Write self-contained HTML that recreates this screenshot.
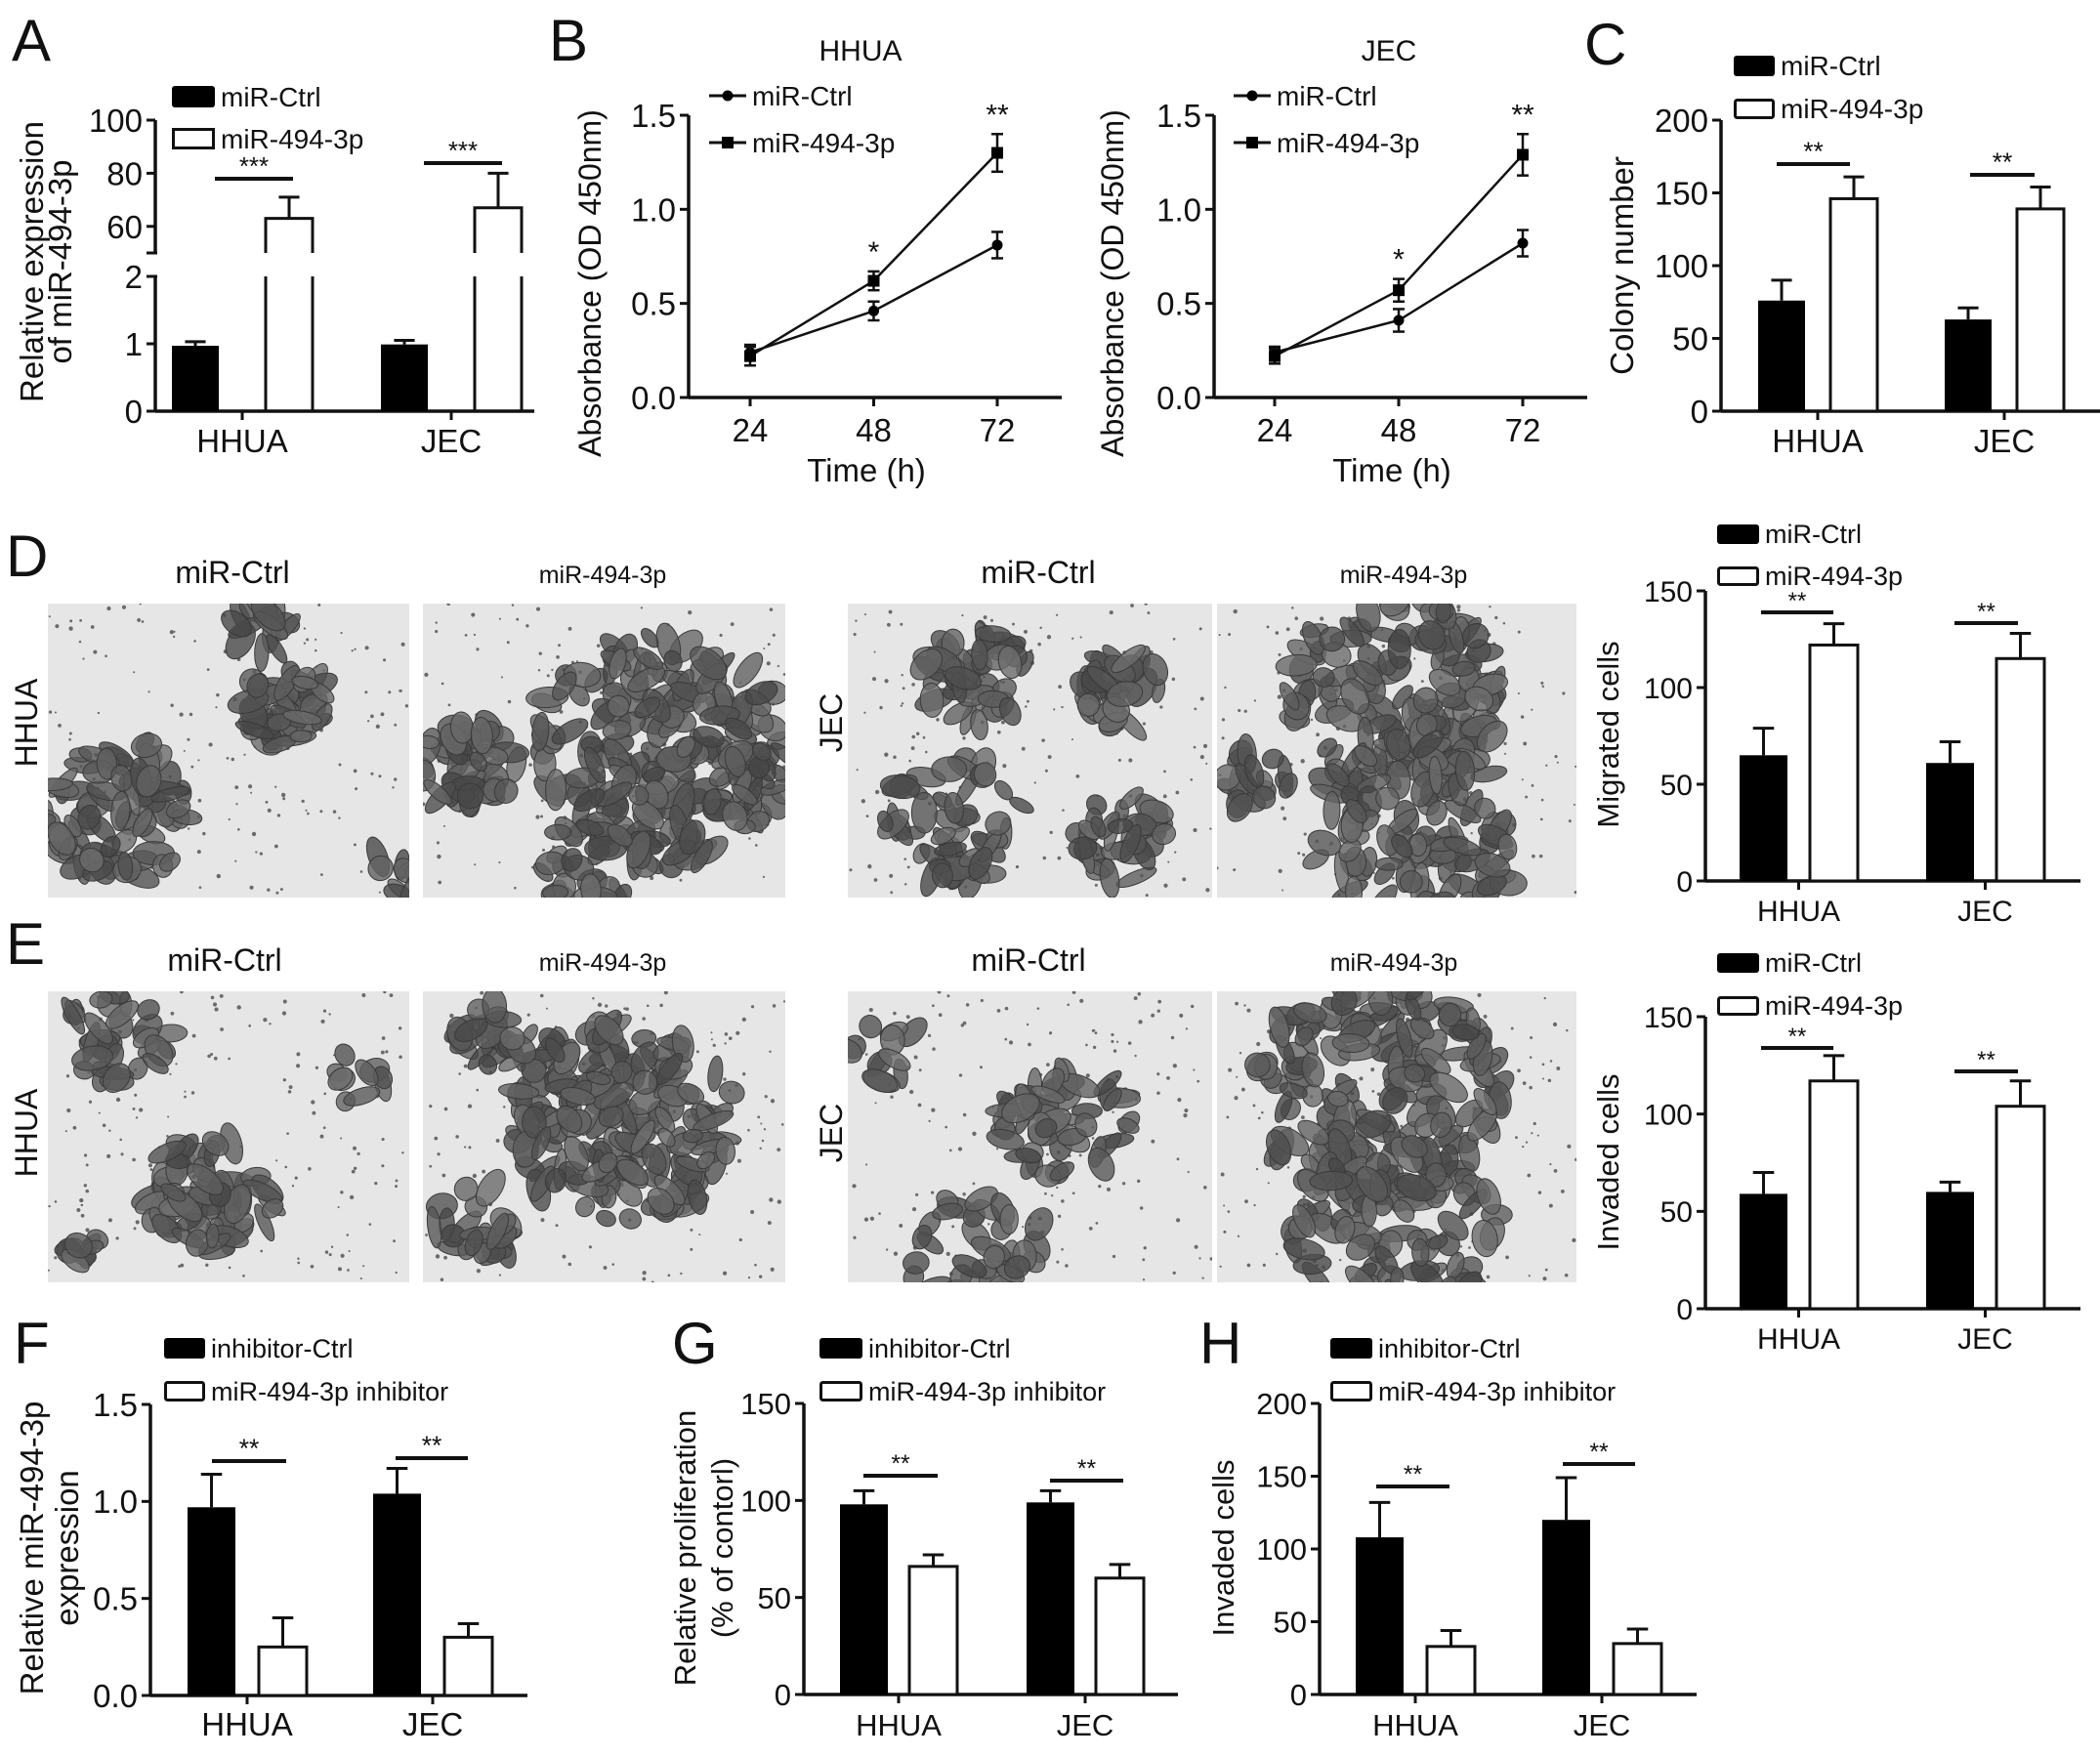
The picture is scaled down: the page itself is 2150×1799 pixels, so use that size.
<!DOCTYPE html>
<html><head><meta charset="utf-8"><style>
html,body{margin:0;padding:0;background:#fff}
svg{display:block;font-family:"Liberation Sans",Arial,sans-serif}
</style></head><body>
<svg id="fig" width="2150" height="1799" viewBox="0 0 2150 1799" xmlns="http://www.w3.org/2000/svg"></svg>
<script>
// ---------- DATA ----------
const groups = ["HHUA", "JEC"];
// A
const aCtrl = [0.97, 0.99], aCtrlErr = [1.03, 1.05];
const aTrt = [63, 67], aTrtErr = [71, 80];
// B
const bTimes = [24, 48, 72];
const bHhuaCtrl = [0.24, 0.46, 0.81], bHhuaCtrlErr = [0.04, 0.05, 0.07];
const bHhuaTrt = [0.22, 0.62, 1.30], bHhuaTrtErr = [0.05, 0.05, 0.10];
const bJecCtrl = [0.24, 0.41, 0.82], bJecCtrlErr = [0.03, 0.06, 0.07];
const bJecTrt = [0.22, 0.57, 1.29], bJecTrtErr = [0.04, 0.06, 0.11];
const bTicks = [0, 0.5, 1.0, 1.5];
// C
const cCtrl = [76, 63], cCtrlErr = [90, 71], cTrt = [146, 139], cTrtErr = [161, 154];
const cTicks = [0, 50, 100, 150, 200];
// D migrated
const dCtrl = [65, 61], dCtrlErr = [79, 72], dTrt = [122, 115], dTrtErr = [133, 128];
const dTicks = [0, 50, 100, 150];
// E invaded
const eCtrl = [59, 60], eCtrlErr = [70, 65], eTrt = [117, 104], eTrtErr = [130, 117];
// F
const fCtrl = [0.97, 1.04], fCtrlErr = [1.14, 1.17], fTrt = [0.25, 0.30], fTrtErr = [0.40, 0.37];
const fTicks = [0, 0.5, 1.0, 1.5];
// G
const gCtrl = [98, 99], gCtrlErr = [105, 105], gTrt = [66, 60], gTrtErr = [72, 67];
const gTicks = [0, 50, 100, 150];
// H
const hCtrl = [108, 120], hCtrlErr = [132, 149], hTrt = [33, 35], hTrtErr = [44, 45];
const hTicks = [0, 50, 100, 150, 200];

// ---------- HELPERS ----------
const NS = "http://www.w3.org/2000/svg";
const fig = document.getElementById('fig');
function mk(tag, attrs, parent) {
  const e = document.createElementNS(NS, tag);
  for (const k in attrs) e.setAttribute(k, attrs[k]);
  (parent || fig).appendChild(e);
  return e;
}
function txt(s, x, y, size, parent, anchor, extra) {
  const t = mk('text', Object.assign({x: x, y: y, 'font-size': size, 'text-anchor': anchor || 'start', fill: '#111'}, extra || {}), parent);
  t.textContent = s;
  return t;
}
function line(x1, y1, x2, y2, w, parent) {
  return mk('line', {x1: x1, y1: y1, x2: x2, y2: y2, stroke: '#111', 'stroke-width': w || 3}, parent);
}

function barChart(o) {
  const g = mk('g', {});
  
  
  const y = v => o.y0 - v * (o.y0 - o.yTop) / o.yMax;
  const ya = line(o.ax, o.yTop, o.ax, o.y0, 3.5, g);
  
  
  const xa = line(o.ax, o.y0, o.xEnd, o.y0, 3.5, g);
  
  
  o.ticks.forEach(t => {
    line(o.ax - 9, y(t), o.ax, y(t), 3, g);
    const tl = txt(o.dec ? t.toFixed(1) : String(t), o.ax - 13, y(t) + o.fs * 0.36, o.fs, g, 'end');
    
    
  });
  o.cats.forEach((c, i) => {
    const x0 = o.x0 + i * o.step;
    const cx = x0 + (o.off + o.bw) / 2;
    line(cx, o.y0, cx, o.y0 + 9, 3, g);
    const cl = txt(c, cx, o.labelY, o.fs, g, 'middle');
    
    
    const b1 = mk('rect', {x: x0, y: y(o.ctrl[i]), width: o.bw, height: o.y0 - y(o.ctrl[i]), fill: '#000'}, g);
    
    
    const ecx = x0 + o.bw / 2;
    line(ecx, y(o.ctrl[i]), ecx, y(o.ctrlErr[i]), 3, g);
    line(ecx - o.bw * 0.22, y(o.ctrlErr[i]), ecx + o.bw * 0.22, y(o.ctrlErr[i]), 3, g);
    const tx = x0 + o.off;
    const b2 = mk('rect', {x: tx, y: y(o.trt[i]), width: o.bw, height: o.y0 - y(o.trt[i]), fill: '#fff', stroke: '#111', 'stroke-width': 3}, g);
    
    
    const tcx = tx + o.bw / 2;
    line(tcx, y(o.trt[i]), tcx, y(o.trtErr[i]), 3, g);
    line(tcx - o.bw * 0.22, y(o.trtErr[i]), tcx + o.bw * 0.22, y(o.trtErr[i]), 3, g);
    const s = o.sig[i];
    const sl = line(x0 + s[0], s[2], x0 + s[1], s[2], 4, g);
    
    
    const st = txt(o.stars, x0 + (s[0] + s[1]) / 2, s[2] - 4, o.fs * 0.8, g, 'middle');
    
    
  });
  const L = o.legend;
  const lg = mk('g', {}, g);
  
  
  mk('rect', {x: L.x, y: L.y1, width: L.w, height: L.h, fill: '#000', rx: 3}, lg);
  mk('rect', {x: L.x + 1.5, y: L.y2 + 1.5, width: L.w - 3, height: L.h - 3, fill: '#fff', stroke: '#111', 'stroke-width': 3, rx: 2}, lg);
  txt(o.legendNames[0], L.x + L.w + 6, L.y1 + L.h - 1, L.fs, lg);
  txt(o.legendNames[1], L.x + L.w + 6, L.y2 + L.h - 1, L.fs, lg);
  o.ytitle.forEach((t, k) => {
    const yt = txt(t, o.ytx[k], o.yty, o.yfs, g, 'middle', {transform: 'rotate(-90 ' + o.ytx[k] + ' ' + o.yty + ')'});
    
    
  });
  return g;
}

// ---------- PANEL LETTERS ----------
[['A', 12, 62], ['B', 562, 62], ['C', 1622, 66], ['D', 6, 590], ['E', 6, 987], ['F', 14, 1396], ['G', 688, 1396], ['H', 1228, 1396]].forEach(p => {
  const t = txt(p[0], p[1], p[2], 60, fig);
  
  
});

// ---------- PANEL A (broken axis) ----------
(function () {
  const g = mk('g', {});
  
  
  const ax = 159, y0 = 421, xEnd = 547;
  const yl = v => y0 - v * (421 - 283) / 2;
  const yu = v => 259 - (v - 50) * (259 - 123) / 50;
  line(ax, 283, ax, y0, 3.5, g);
  line(ax, 123, ax, 259, 3.5, g);
  line(ax, y0, xEnd, y0, 3.5, g);
  [0, 1, 2].forEach(t => { line(ax - 9, yl(t), ax, yl(t), 3, g); txt(String(t), ax - 13, yl(t) + 12, 33, g, 'end'); });
  [60, 80, 100].forEach(t => { line(ax - 9, yu(t), ax, yu(t), 3, g); txt(String(t), ax - 13, yu(t) + 12, 33, g, 'end'); });
  line(ax - 9, 259, ax + 2, 259, 3, g);
  line(ax - 9, 283, ax + 2, 283, 3, g);
  const x0 = 176, step = 214, off = 96, bw = 48;
  const sigY = [183, 167];
  groups.forEach((c, i) => {
    const bx = x0 + i * step;
    const cx = bx + (off + bw) / 2;
    line(cx, y0, cx, y0 + 9, 3, g);
    txt(c, cx, 463, 33, g, 'middle');
    const b = mk('rect', {x: bx, y: yl(aCtrl[i]), width: bw, height: y0 - yl(aCtrl[i]), fill: '#000'}, g);
    
    
    line(bx + bw / 2, yl(aCtrl[i]), bx + bw / 2, yl(aCtrlErr[i]), 3, g);
    line(bx + bw * 0.28, yl(aCtrlErr[i]), bx + bw * 0.72, yl(aCtrlErr[i]), 3, g);
    const tx = bx + off;
    line(tx, 283, tx, y0, 3, g); line(tx + bw, 283, tx + bw, y0, 3, g);
    const p = mk('path', {d: 'M' + tx + ' 259 V' + yu(aTrt[i]) + ' H' + (tx + bw) + ' V259', fill: 'none', stroke: '#111', 'stroke-width': 3}, g);
    
    
    line(tx + bw / 2, yu(aTrt[i]), tx + bw / 2, yu(aTrtErr[i]), 3, g);
    line(tx + bw * 0.28, yu(aTrtErr[i]), tx + bw * 0.72, yu(aTrtErr[i]), 3, g);
    line(bx + 44, sigY[i], tx + 28, sigY[i], 4, g);
    txt('***', bx + 44 + (tx + 28 - bx - 44) / 2, sigY[i] - 4, 26, g, 'middle');
  });
  const lg = mk('g', {}, g);
  
  
  mk('rect', {x: 176, y: 88, width: 44, height: 22, fill: '#000', rx: 3}, lg);
  mk('rect', {x: 177.5, y: 132.5, width: 41, height: 19, fill: '#fff', stroke: '#111', 'stroke-width': 3}, lg);
  txt('miR-Ctrl', 226, 109, 28, lg);
  txt('miR-494-3p', 226, 152, 28, lg);
  txt('Relative expression', 44, 268, 33, g, 'middle', {transform: 'rotate(-90 44 268)'});
  txt('of miR-494-3p', 73, 268, 33, g, 'middle', {transform: 'rotate(-90 73 268)'});
})();

// ---------- PANEL B ----------
function lineChart(o) {
  const g = mk('g', {});
  
  
  const y = v => 407 - v * (407 - 118) / 1.5;
  const x = i => o.x24 + i * o.dx;
  line(o.ax, 118, o.ax, 407, 3.5, g);
  line(o.ax, 407, o.xEnd, 407, 3.5, g);
  bTicks.forEach(t => { line(o.ax - 9, y(t), o.ax, y(t), 3, g); txt(t.toFixed(1), o.ax - 13, y(t) + 12, 33, g, 'end'); });
  bTimes.forEach((t, i) => { line(x(i), 407, x(i), 416, 3, g); txt(String(t), x(i), 452, 33, g, 'middle'); });
  txt('Time (h)', o.timeX, 493, 33, g, 'middle');
  txt(o.title, o.titleX, 62, 30, g, 'middle');
  txt('Absorbance (OD 450nm)', o.ytx, 290, 32, g, 'middle', {transform: 'rotate(-90 ' + o.ytx + ' 290)'});
  [[o.ctrl, o.ctrlE, 'circle', 'series-ctrl'], [o.trt, o.trtE, 'square', 'series-treatment']].forEach(s => {
    const pts = s[0].map((v, i) => x(i) + ',' + y(v)).join(' ');
    const pl = mk('polyline', {points: pts, fill: 'none', stroke: '#111', 'stroke-width': 2.5}, g);
    
    
    s[0].forEach((v, i) => {
      line(x(i), y(v - s[1][i]), x(i), y(v + s[1][i]), 2.5, g);
      line(x(i) - 6, y(v - s[1][i]), x(i) + 6, y(v - s[1][i]), 2.5, g);
      line(x(i) - 6, y(v + s[1][i]), x(i) + 6, y(v + s[1][i]), 2.5, g);
      const m = s[2] === 'circle' ? mk('circle', {cx: x(i), cy: y(v), r: 5.5, fill: '#000'}, g)
                                  : mk('rect', {x: x(i) - 6, y: y(v) - 6, width: 12, height: 12, fill: '#000'}, g);
      
      
    });
  });
  txt('*', x(1), y(o.trt[1] + o.trtE[1]) - 10, 30, g, 'middle');
  txt('**', x(2), y(o.trt[2] + o.trtE[2]) - 10, 30, g, 'middle');
  const lg = mk('g', {}, g);
  
  
  line(o.lx, 98, o.lx + 38, 98, 3, lg); mk('circle', {cx: o.lx + 19, cy: 98, r: 5.5, fill: '#000'}, lg);
  line(o.lx, 146, o.lx + 38, 146, 3, lg); mk('rect', {x: o.lx + 13, y: 140, width: 12, height: 12, fill: '#000'}, lg);
  txt('miR-Ctrl', o.lx + 44, 108, 28, lg);
  txt('miR-494-3p', o.lx + 44, 156, 28, lg);
}
lineChart({name: 'panel-b-hhua-chart', ax: 705, xEnd: 1087, x24: 768, dx: 126.5, timeX: 887, title: 'HHUA', titleX: 881, ytx: 615, lx: 726,
  ctrl: bHhuaCtrl, ctrlE: bHhuaCtrlErr, trt: bHhuaTrt, trtE: bHhuaTrtErr});
lineChart({name: 'panel-b-jec-chart', ax: 1243, xEnd: 1625, x24: 1305, dx: 127, timeX: 1425, title: 'JEC', titleX: 1422, ytx: 1150, lx: 1263,
  ctrl: bJecCtrl, ctrlE: bJecCtrlErr, trt: bJecTrt, trtE: bJecTrtErr});

// ---------- PANEL C ----------
barChart({name: 'panel-c-chart', ax: 1762, y0: 421, yTop: 123, yMax: 200, xEnd: 2150, ticks: cTicks, fs: 33, cats: groups,
  x0: 1800, step: 191, off: 74, bw: 48, labelY: 463, ctrl: cCtrl, ctrlErr: cCtrlErr, trt: cTrt, trtErr: cTrtErr, stars: '**',
  sig: [[19, 94, 168], [26, 92, 179]], legend: {x: 1775, y1: 57, y2: 101, w: 42, h: 21, fs: 28},
  legendNames: ['miR-Ctrl', 'miR-494-3p'], ytitle: ['Colony number'], ytx: [1672], yty: 272, yfs: 33});

// ---------- PANEL D / E charts ----------
barChart({name: 'panel-d-migrated-chart', ax: 1746, y0: 902, yTop: 605, yMax: 150, xEnd: 2130, ticks: dTicks, fs: 30, cats: groups,
  x0: 1781, step: 191, off: 72, bw: 49, labelY: 943, ctrl: dCtrl, ctrlErr: dCtrlErr, trt: dTrt, trtErr: dTrtErr, stars: '**',
  sig: [[22, 96, 627], [29, 94, 638]], legend: {x: 1758, y1: 537, y2: 580, w: 43, h: 20, fs: 27},
  legendNames: ['miR-Ctrl', 'miR-494-3p'], ytitle: ['Migrated cells'], ytx: [1657], yty: 752, yfs: 31});
barChart({name: 'panel-e-invaded-chart', ax: 1746, y0: 1340, yTop: 1041, yMax: 150, xEnd: 2130, ticks: dTicks, fs: 30, cats: groups,
  x0: 1781, step: 191, off: 72, bw: 49, labelY: 1381, ctrl: eCtrl, ctrlErr: eCtrlErr, trt: eTrt, trtErr: eTrtErr, stars: '**',
  sig: [[22, 96, 1073], [29, 94, 1097]], legend: {x: 1758, y1: 976, y2: 1020, w: 43, h: 20, fs: 27},
  legendNames: ['miR-Ctrl', 'miR-494-3p'], ytitle: ['Invaded cells'], ytx: [1657], yty: 1190, yfs: 31});

// ---------- PANELS F G H ----------
barChart({name: 'panel-f-chart', ax: 154, y0: 1736, yTop: 1438, yMax: 1.5, dec: true, xEnd: 540, ticks: fTicks, fs: 33, cats: groups,
  x0: 192, step: 190, off: 73, bw: 49, labelY: 1777, ctrl: fCtrl, ctrlErr: fCtrlErr, trt: fTrt, trtErr: fTrtErr, stars: '**',
  sig: [[25, 101, 1496], [23, 97, 1493]], legend: {x: 168, y1: 1370, y2: 1414, w: 42, h: 21, fs: 27},
  legendNames: ['inhibitor-Ctrl', 'miR-494-3p inhibitor'], ytitle: ['Relative miR-494-3p', 'expression'], ytx: [44, 80], yty: 1585, yfs: 33});
barChart({name: 'panel-g-chart', ax: 823, y0: 1735, yTop: 1437, yMax: 150, xEnd: 1206, ticks: gTicks, fs: 31, cats: groups,
  x0: 860, step: 191, off: 71, bw: 49, labelY: 1777, ctrl: gCtrl, ctrlErr: gCtrlErr, trt: gTrt, trtErr: gTrtErr, stars: '**',
  sig: [[24, 100, 1511], [24, 99, 1516]], legend: {x: 839, y1: 1370, y2: 1414, w: 44, h: 21, fs: 27},
  legendNames: ['inhibitor-Ctrl', 'miR-494-3p inhibitor'], ytitle: ['Relative proliferation', '(% of contorl)'], ytx: [712, 750], yty: 1585, yfs: 31});
barChart({name: 'panel-h-chart', ax: 1351, y0: 1735, yTop: 1437, yMax: 200, xEnd: 1737, ticks: hTicks, fs: 31, cats: groups,
  x0: 1388, step: 191, off: 73, bw: 49, labelY: 1777, ctrl: hCtrl, ctrlErr: hCtrlErr, trt: hTrt, trtErr: hTrtErr, stars: '**',
  sig: [[21, 96, 1522], [21, 95, 1499]], legend: {x: 1362, y1: 1370, y2: 1414, w: 43, h: 21, fs: 27},
  legendNames: ['inhibitor-Ctrl', 'miR-494-3p inhibitor'], ytitle: ['Invaded cells'], ytx: [1263], yty: 1585, yfs: 31});

// ---------- MICROGRAPHS ----------
function rng(seed) { return function () { seed |= 0; seed = seed + 0x6D2B79F5 | 0; let t = Math.imul(seed ^ seed >>> 15, 1 | seed); t = t + Math.imul(t ^ t >>> 7, 61 | t) ^ t; return ((t ^ t >>> 14) >>> 0) / 4294967296; }; }
function micro(name, x, y, w, h, clusters, seed) {
  const R = rng(seed);
  const g = mk('g', {});
  
  
  const cp = mk('clipPath', {id: 'cp' + seed}, g);
  mk('rect', {x: x, y: y, width: w, height: h}, cp);
  const inner = mk('g', {'clip-path': 'url(#cp' + seed + ')'}, g);
  mk('rect', {x: x, y: y, width: w, height: h, fill: '#e6e6e6'}, inner);
  for (let i = 0; i < 160; i++) mk('circle', {cx: x + R() * w, cy: y + R() * h, r: 1 + R() * 1.2, fill: '#6a6a6a'}, inner);
  clusters.forEach(c => {
    for (let i = 0; i < c[3]; i++) {
      const a = R() * 6.283, d = Math.sqrt(R()) * c[2];
      const cx = x + (c[0] + Math.cos(a) * d) * w, cy = y + (c[1] + Math.sin(a) * d * 1.1) * h;
      const rx = 10 + R() * 12, ry = 6 + R() * 7, rot = R() * 180;
      const shade = 70 + Math.floor(R() * 40);
      mk('ellipse', {cx: cx, cy: cy, rx: rx, ry: ry, transform: 'rotate(' + rot + ' ' + cx + ' ' + cy + ')',
        fill: 'rgb(' + shade + ',' + shade + ',' + shade + ')', 'fill-opacity': 0.8, stroke: '#3a3a3a', 'stroke-width': 1}, inner);
    }
  });
}
micro('micrograph-d-hhua-ctrl', 49, 618, 370, 301, [[0.2, 0.7, 0.22, 80], [0.65, 0.35, 0.12, 50], [0.6, 0.08, 0.08, 15], [0.95, 0.92, 0.07, 10]], 11);
micro('micrograph-d-hhua-mir', 433, 618, 371, 301, [[0.12, 0.55, 0.14, 50], [0.66, 0.5, 0.36, 220], [0.45, 0.9, 0.14, 30]], 12);
micro('micrograph-d-jec-ctrl', 868, 618, 373, 301, [[0.35, 0.25, 0.15, 45], [0.75, 0.3, 0.12, 35], [0.3, 0.75, 0.2, 55], [0.75, 0.8, 0.13, 35]], 13);
micro('micrograph-d-jec-mir', 1246, 618, 368, 301, [[0.5, 0.3, 0.3, 130], [0.55, 0.8, 0.3, 120], [0.1, 0.6, 0.1, 20]], 14);
micro('micrograph-e-hhua-ctrl', 49, 1015, 370, 298, [[0.2, 0.15, 0.15, 35], [0.45, 0.7, 0.18, 70], [0.85, 0.3, 0.08, 10], [0.1, 0.9, 0.06, 10]], 15);
micro('micrograph-e-hhua-mir', 433, 1015, 371, 298, [[0.55, 0.45, 0.32, 190], [0.2, 0.15, 0.1, 25], [0.15, 0.8, 0.12, 25]], 16);
micro('micrograph-e-jec-ctrl', 868, 1015, 373, 298, [[0.6, 0.45, 0.18, 55], [0.35, 0.9, 0.2, 45], [0.1, 0.2, 0.1, 12]], 17);
micro('micrograph-e-jec-mir', 1246, 1015, 368, 298, [[0.45, 0.35, 0.35, 170], [0.5, 0.85, 0.3, 100]], 18);

[[238, 597, 'miR-Ctrl', 32], [617, 597, 'miR-494-3p', 25], [1063, 597, 'miR-Ctrl', 32], [1437, 597, 'miR-494-3p', 25],
 [230, 994, 'miR-Ctrl', 32], [617, 994, 'miR-494-3p', 25], [1053, 994, 'miR-Ctrl', 32], [1427, 994, 'miR-494-3p', 25]].forEach(t => {
  const e = txt(t[2], t[0], t[1], t[3], fig, 'middle');
  
  
});
[[38, 740, 'HHUA'], [862, 740, 'JEC'], [38, 1160, 'HHUA'], [862, 1160, 'JEC']].forEach(t => {
  const e = txt(t[2], t[0], t[1], 32, fig, 'middle', {transform: 'rotate(-90 ' + t[0] + ' ' + t[1] + ')'});
  
  
});
</script>
</body></html>
